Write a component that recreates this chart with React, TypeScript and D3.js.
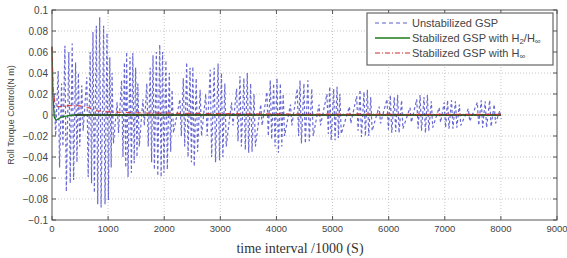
import React from "react";
import * as d3 from "d3";

const W = 567;
const H = 258;

const xTicks = [0, 1000, 2000, 3000, 4000, 5000, 6000, 7000, 8000, 9000];
const yTicks = [0.1, 0.08, 0.06, 0.04, 0.02, 0, -0.02, -0.04, -0.06, -0.08, -0.1];

// Unstabilized GSP: oscillation columns (time, upper peak, lower peak)
const unstabT = [40, 110, 170, 230, 300, 360, 420, 470, 530, 620, 680, 730, 790, 850, 920, 980, 1030, 1070, 1160, 1240, 1290, 1330, 1390, 1440, 1490, 1530, 1620, 1690, 1750, 1800, 1860, 1920, 1970, 2030, 2090, 2140, 2280, 2340, 2400, 2460, 2510, 2570, 2640, 2740, 2820, 2890, 2960, 3020, 3080, 3200, 3290, 3350, 3420, 3480, 3540, 3600, 3720, 3830, 3890, 3950, 4010, 4070, 4120, 4250, 4370, 4420, 4490, 4560, 4630, 4760, 4900, 4950, 5020, 5080, 5130, 5300, 5430, 5490, 5560, 5620, 5680, 5830, 5970, 6030, 6100, 6160, 6230, 6380, 6500, 6560, 6630, 6690, 6760, 6900, 6990, 7050, 7120, 7190, 7260, 7420, 7580, 7650, 7720, 7800, 7880, 7980];
const unstabHi = [0.02, 0.042, 0.03, 0.066, 0.06, 0.068, 0.05, 0.04, 0.028, 0.036, 0.06, 0.079, 0.085, 0.093, 0.085, 0.078, 0.055, 0.04, 0.012, 0.033, 0.05, 0.06, 0.055, 0.059, 0.045, 0.03, 0.015, 0.03, 0.045, 0.057, 0.06, 0.067, 0.06, 0.052, 0.04, 0.024, 0.015, 0.035, 0.05, 0.045, 0.046, 0.035, 0.024, 0.02, 0.043, 0.045, 0.049, 0.04, 0.03, 0.012, 0.025, 0.037, 0.035, 0.04, 0.03, 0.02, 0.01, 0.022, 0.033, 0.03, 0.035, 0.03, 0.02, 0.01, 0.025, 0.033, 0.03, 0.033, 0.025, 0.01, 0.02, 0.027, 0.025, 0.027, 0.02, 0.008, 0.018, 0.024, 0.022, 0.024, 0.017, 0.008, 0.015, 0.019, 0.017, 0.019, 0.014, 0.007, 0.015, 0.019, 0.017, 0.019, 0.013, 0.007, 0.012, 0.014, 0.014, 0.013, 0.01, 0.006, 0.012, 0.014, 0.013, 0.014, 0.01, 0.004];
const unstabLo = [-0.02, -0.05, -0.03, -0.073, -0.065, -0.062, -0.045, -0.03, -0.015, -0.059, -0.065, -0.074, -0.085, -0.088, -0.085, -0.081, -0.05, -0.027, -0.017, -0.04, -0.05, -0.059, -0.055, -0.046, -0.04, -0.03, -0.01, -0.03, -0.045, -0.052, -0.058, -0.059, -0.055, -0.052, -0.035, -0.017, -0.02, -0.03, -0.04, -0.045, -0.049, -0.035, -0.02, -0.02, -0.04, -0.045, -0.043, -0.04, -0.03, -0.01, -0.025, -0.03, -0.033, -0.036, -0.035, -0.03, -0.01, -0.02, -0.023, -0.03, -0.036, -0.03, -0.02, -0.01, -0.02, -0.027, -0.027, -0.025, -0.02, -0.01, -0.018, -0.024, -0.024, -0.022, -0.018, -0.008, -0.015, -0.021, -0.02, -0.02, -0.015, -0.008, -0.014, -0.017, -0.016, -0.017, -0.013, -0.007, -0.013, -0.015, -0.017, -0.015, -0.012, -0.007, -0.012, -0.013, -0.013, -0.012, -0.01, -0.006, -0.01, -0.012, -0.012, -0.011, -0.008, -0.004];

// Stabilized GSP with H2/Hinf
const h2T = [0, 15, 40, 70, 110, 160, 250, 400, 8000];
const h2V = [0.065, 0.02, -0.002, -0.005, -0.004, -0.002, -0.001, 0, 0];

// Stabilized GSP with Hinf
const hinfT = [0, 20, 50, 100, 180, 300, 450, 600, 700, 800, 1000, 1500, 2500, 4000, 8000];
const hinfV = [0.065, 0.025, 0.012, 0.008, 0.008, 0.009, 0.009, 0.008, 0.006, 0.004, 0.003, 0.002, 0.0015, 0.001, 0.0005];

const legendLabels = ["Unstabilized GSP", "Stabilized GSP with H", "Stabilized GSP with H"];

export default function App() {
  const left = 52, right = 557, top = 10, bottom = 220;
  const x = d3.scaleLinear().domain([0, 9000]).range([left, right]);
  const y = d3.scaleLinear().domain([-0.1, 0.1]).range([bottom, top]);

  const unstabPts: [number, number][] = [];
  unstabT.forEach((t, i) => {
    unstabPts.push([t, unstabHi[i]]);
    unstabPts.push([t + 25, unstabLo[i]]);
  });
  const line = d3.line<[number, number]>().x(d => x(d[0])).y(d => y(d[1]));
  const h2Pts = h2T.map((t, i) => [t, h2V[i]] as [number, number]);
  const hinfPts = hinfT.map((t, i) => [t, hinfV[i]] as [number, number]);

  const tickFont = "Liberation Sans, Arial, sans-serif";
  const blue = "#2a2ac0";
  const green = "#1d7a1d";
  const red = "#d42a2a";

  const lx0 = 367, lx1 = 553, ly0 = 13, ly1 = 65;
  const rows = [23, 38, 53];

  return (
    <svg width={W} height={H} style={{ position: "absolute", left: 0, top: 0, background: "#fff" }}>
      <rect x={0} y={0} width={W} height={H} fill="#fff" />
      {/* grid */}
      {xTicks.slice(1, -1).map(t => (
        <line key={"gx" + t} x1={x(t)} x2={x(t)} y1={top} y2={bottom} stroke="#b8b8b8" strokeWidth={0.8} strokeDasharray="1,2" />
      ))}
      {yTicks.slice(1, -1).map(t => (
        <line key={"gy" + t} x1={left} x2={right} y1={y(t)} y2={y(t)} stroke="#b8b8b8" strokeWidth={0.8} strokeDasharray="1,2" />
      ))}
      {/* data */}
      <path d={line(unstabPts) || ""} fill="none" stroke={blue} strokeWidth={1.2} strokeDasharray="3,2.5" opacity={0.7} />
      <path d={line(h2Pts) || ""} fill="none" stroke={green} strokeWidth={1.3} />
      <line x1={x(400)} x2={x(8000)} y1={y(0)} y2={y(0)} stroke="#2e2e1a" strokeWidth={1.4} opacity={0.75} />
      <path d={line(hinfPts) || ""} fill="none" stroke={red} strokeWidth={1.2} strokeDasharray="5,2,1,2" opacity={0.85} />
      {/* frame */}
      <rect x={left} y={top} width={right - left} height={bottom - top} fill="none" stroke="#555" strokeWidth={1} />
      {/* ticks */}
      {xTicks.map(t => (
        <g key={"tx" + t}>
          <line x1={x(t)} x2={x(t)} y1={bottom} y2={bottom - 4} stroke="#555" />
          <line x1={x(t)} x2={x(t)} y1={top} y2={top + 4} stroke="#555" />
          <text x={x(t)} y={231.5} fontSize={9.5} fontFamily={tickFont} fill="#444" textAnchor="middle">{t}</text>
        </g>
      ))}
      {yTicks.map(t => (
        <g key={"ty" + t}>
          <line x1={left} x2={left + 4} y1={y(t)} y2={y(t)} stroke="#555" />
          <line x1={right} x2={right - 4} y1={y(t)} y2={y(t)} stroke="#555" />
          <text x={48} y={y(t) + 3.5} fontSize={10} fontFamily={tickFont} fill="#444" textAnchor="end">{t === 0 ? "0" : d3.format("")(t)}</text>
        </g>
      ))}
      {/* axis titles */}
      <text x={300} y={253} fontSize={14} fontFamily="Liberation Serif, Times New Roman, serif" fill="#333" textAnchor="middle">time interval /1000 (S)</text>
      <text transform={`translate(14,${(top + bottom) / 2}) rotate(-90)`} fontSize={9} fontFamily={tickFont} fill="#444" textAnchor="middle">Roll Torque Control(N m)</text>
      {/* legend */}
      <rect x={lx0} y={ly0} width={lx1 - lx0} height={ly1 - ly0} fill="#fff" stroke="#666" strokeWidth={1.2} />
      <line x1={375} x2={410} y1={rows[0]} y2={rows[0]} stroke={blue} strokeWidth={1.2} strokeDasharray="4,3" opacity={0.75} />
      <line x1={375} x2={410} y1={rows[1]} y2={rows[1]} stroke={green} strokeWidth={1.4} />
      <line x1={375} x2={410} y1={rows[2]} y2={rows[2]} stroke={red} strokeWidth={1.2} strokeDasharray="5,2,1,2" />
      <text x={412} y={rows[0] + 4} fontSize={11} fontFamily={tickFont} fill="#444">{legendLabels[0]}</text>
      <text x={412} y={rows[1] + 4} fontSize={11} fontFamily={tickFont} fill="#444">
        {legendLabels[1]}
        <tspan fontSize={8} dy={2}>2</tspan>
        <tspan dy={-2}>/H</tspan>
        <tspan fontSize={8} dy={2}>∞</tspan>
      </text>
      <text x={412} y={rows[2] + 4} fontSize={11} fontFamily={tickFont} fill="#444">
        {legendLabels[2]}
        <tspan fontSize={8} dy={2}>∞</tspan>
      </text>
    </svg>
  );
}
